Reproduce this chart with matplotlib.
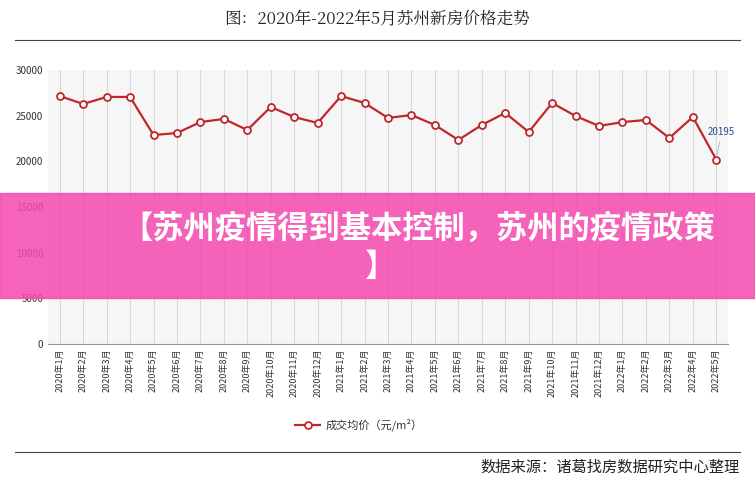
import matplotlib
matplotlib.use("Agg")
import matplotlib.pyplot as plt
from matplotlib.lines import Line2D

plt.rcParams['font.family'] = ['Noto Sans CJK SC', 'DejaVu Sans']

months = ["2020年1月", "2020年2月", "2020年3月", "2020年4月", "2020年5月", "2020年6月",
          "2020年7月", "2020年8月", "2020年9月", "2020年10月", "2020年11月", "2020年12月",
          "2021年1月", "2021年2月", "2021年3月", "2021年4月", "2021年5月", "2021年6月",
          "2021年7月", "2021年8月", "2021年9月", "2021年10月", "2021年11月", "2021年12月",
          "2022年1月", "2022年2月", "2022年3月", "2022年4月", "2022年5月"]
prices = [27150, 26280, 27050, 27050, 22880, 23100, 24300, 24640, 23430, 25950, 24850, 24200,
          27150, 26390, 24750, 25070, 23980, 22340, 23980, 25300, 23210, 26390, 24960, 23870,
          24300, 24530, 22560, 24850, 20195]
yticks = [0, 5000, 10000, 15000, 20000, 25000, 30000]

fig = plt.figure(figsize=(7.55, 4.92), dpi=100)
ax = fig.add_axes([48/755, 1-344/492, 680/755, 274/492])
x = list(range(len(months)))
ax.plot(x, prices, color='#c0272d', lw=1.6, marker='o', ms=5,
        markerfacecolor='white', markeredgecolor='#c0272d', markeredgewidth=1.3, zorder=3)
ax.annotate(f"{prices[-1]}", (x[-1], prices[-1]), xytext=(-6, 18), textcoords='offset points',
            fontsize=7, color='#1f4e8c', arrowprops=dict(arrowstyle='-', color='#9db7d8', lw=0.6))
ax.set_xlim(-0.5, len(months) - 0.5)
ax.set_ylim(0, 30000)
ax.set_yticks(yticks)
ax.set_yticklabels([str(v) for v in yticks], fontsize=7, color='#333333')
ax.set_xticks(x)
ax.set_xticklabels(months, rotation=90, fontsize=6.5, color='#333333')
ax.set_facecolor('#f6f6f6')
ax.grid(axis='x', color='#d8d8d8', lw=0.8)
ax.tick_params(length=0)
for s in ['top', 'right', 'left']:
    ax.spines[s].set_visible(False)
ax.spines['bottom'].set_color('#999999')

# title and separators
fig.text(0.5, 1-20/492, "图：2020年-2022年5月苏州新房价格走势", ha='center', va='center',
         fontsize=12, family=['Noto Serif CJK SC', 'Noto Sans CJK SC'], color='#222222')
fig.add_artist(Line2D([0.02, 0.98], [1-40/492]*2, color='#444444', lw=0.8))
fig.add_artist(Line2D([0.02, 0.98], [1-452/492]*2, color='#444444', lw=0.8))
fig.text(0.98, 1-467/492, "数据来源：诸葛找房数据研究中心整理", ha='right', va='center',
         fontsize=11, color='#222222')

# legend
fig.add_artist(Line2D([295/755, 320/755], [1-425/492]*2, color='#c0272d', lw=1.6))
fig.add_artist(Line2D([307.5/755], [1-425/492], color='#c0272d', marker='o', ms=5,
                      markerfacecolor='white', markeredgewidth=1.3))
fig.text(326/755, 1-425/492, "成交均价（元/m²）", va='center', fontsize=8, color='#333333')

# pink banner
fig.add_artist(plt.Rectangle((0, 1-298/492), 1, 105/492, transform=fig.transFigure,
                             color='#f548b0', alpha=0.85, zorder=5))
fig.text(418/755, 1-229/492, "【苏州疫情得到基本控制，苏州的疫情政策", ha='center', va='center',
         fontsize=22.5, fontweight='bold', color='white', zorder=6)
fig.text(380/755, 1-267/492, "】", ha='center', va='center',
         fontsize=22.5, fontweight='bold', color='white', zorder=6)

fig.savefig("out.png", dpi=100)
